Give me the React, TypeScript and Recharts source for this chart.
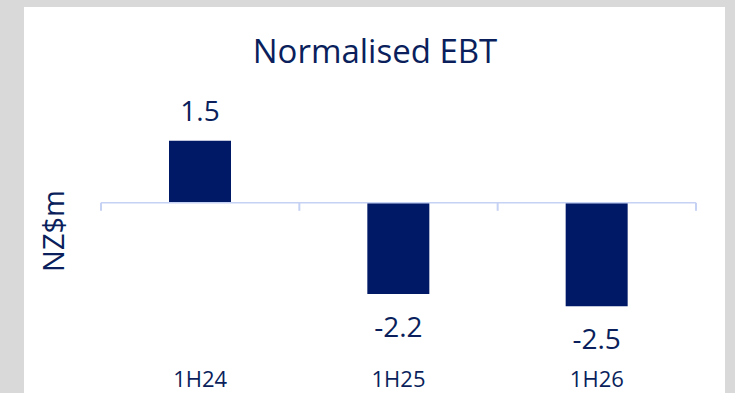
import React from 'react';
import { BarChart, Bar, XAxis, YAxis, ReferenceLine, LabelList } from 'recharts';

const periods = ['1H24', '1H25', '1H26'];
const ebtValues = [1.5, -2.2, -2.5];
const yDomain = [-3, 2];

const data = periods.map((period, i) => ({ period, ebt: ebtValues[i] }));

const NAVY = '#001966';
const TEXT = '#0a1f5c';
const AXIS = '#c6d2f4';
const FONT = '"Open Sans", sans-serif';

const CHART_W = 701;
const CHART_H = 386;

// value labels: above positive bars, below negative ones
const ValueLabel = (props: any) => {
    const { x, y, width, height, value } = props;
    const top = Math.min(y, y + height);
    const bottom = Math.max(y, y + height);
    const ty = value >= 0 ? top - 20 : bottom + 43;
    return (
        <text x={x + width / 2} y={ty} textAnchor="middle" fill={TEXT} fontSize={28} fontFamily={FONT}>
            {value}
        </text>
    );
};

// category names sit at the bottom, away from the zero line
const PeriodTick = (props: any) => {
    const { x, y, payload } = props;
    return (
        <text x={x} y={y + 60} textAnchor="middle" fill={TEXT} fontSize={22} fontFamily={FONT}>
            {payload.value}
        </text>
    );
};

// zero line doubles as the category axis, with ticks between categories
const ZeroAxis = (props: any) => {
    const { x1, y1, x2 } = props;
    const n = periods.length;
    const step = (x2 - x1) / n;
    return (
        <g>
            <line x1={x1} y1={y1} x2={x2} y2={y1} stroke={AXIS} strokeWidth={1.5} />
            {Array.from({ length: n + 1 }, (_, i) => (
                <line key={i} x1={x1 + i * step} y1={y1} x2={x1 + i * step} y2={y1 + 8} stroke={AXIS} strokeWidth={2} />
            ))}
        </g>
    );
};

export default function App() {
    return (
        <div style={{ position: 'fixed', left: 0, top: 0, width: 735, height: 393, background: '#d9d9d9', overflow: 'hidden' }}>
            <div style={{ position: 'absolute', left: 24, top: 7, width: CHART_W, height: CHART_H, background: '#ffffff' }}>
                <BarChart
                    width={CHART_W}
                    height={CHART_H}
                    data={data}
                    margin={{ top: 113, right: 29, left: 77, bottom: 6 }}
                    style={{ overflow: 'visible' }}
                >
                    <XAxis
                        dataKey="period"
                        height={60}
                        axisLine={false}
                        tickLine={false}
                        tickSize={0}
                        tickMargin={0}
                        tick={<PeriodTick />}
                        interval={0}
                    />
                    <YAxis hide domain={yDomain} />
                    <ReferenceLine y={0} shape={<ZeroAxis />} />
                    <Bar dataKey="ebt" fill={NAVY} barSize={62} isAnimationActive={false}>
                        <LabelList dataKey="ebt" content={<ValueLabel />} />
                    </Bar>
                </BarChart>
                <svg width={CHART_W} height={CHART_H} style={{ position: 'absolute', left: 0, top: 0, pointerEvents: 'none' }}>
                    <text x={351} y={56} textAnchor="middle" fill={TEXT} fontSize={33} fontFamily={FONT}>
                        Normalised EBT
                    </text>
                    <text
                        x={28}
                        y={224}
                        textAnchor="middle"
                        dominantBaseline="central"
                        transform="rotate(-90 28 224)"
                        fill={TEXT}
                        fontSize={29}
                        fontFamily={FONT}
                    >
                        NZ$m
                    </text>
                </svg>
            </div>
        </div>
    );
}
